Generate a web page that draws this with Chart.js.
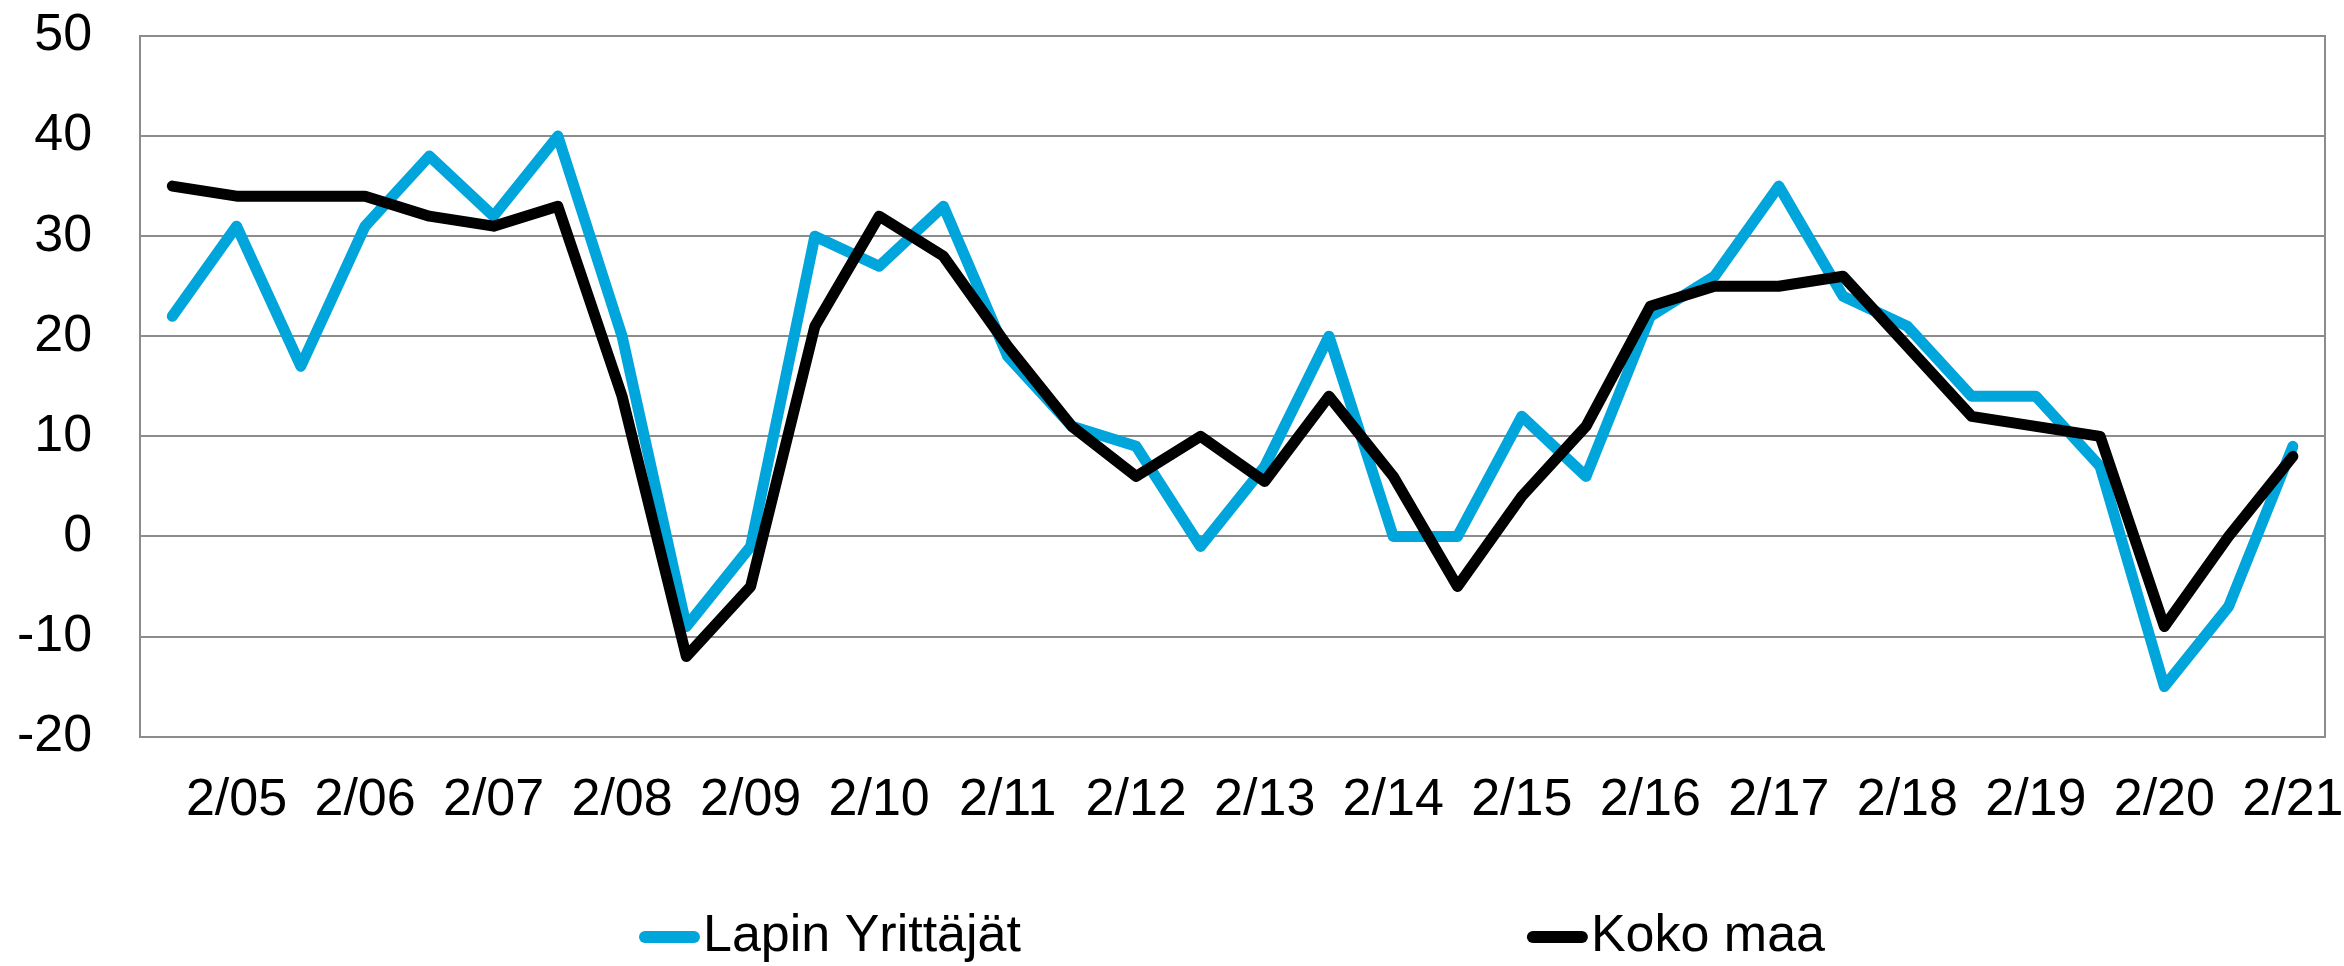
<!DOCTYPE html>
<html>
<head>
<meta charset="utf-8">
<script src="https://cdn.jsdelivr.net/npm/chart.js@4.4.1/dist/chart.umd.min.js"></script>
<style>
  html, body { margin: 0; padding: 0; background: #ffffff; }
  #wrap { width: 2344px; height: 966px; position: relative; }
</style>
</head>
<body>
<div id="wrap"><canvas id="c"></canvas></div>
<script>
const categories = [
  "1/05","2/05","1/06","2/06","1/07","2/07","1/08","2/08","1/09","2/09",
  "1/10","2/10","1/11","2/11","1/12","2/12","1/13","2/13","1/14","2/14",
  "1/15","2/15","1/16","2/16","1/17","2/17","1/18","2/18","1/19","2/19",
  "1/20","2/20","1/21","2/21"
];
const lapinYrittajat = [
  22, 31, 17, 31, 38, 32, 40, 20, -9, -1,
  30, 27, 33, 18, 11, 9, -1, 7, 20, 0,
  0, 12, 6, 22, 26, 35, 24, 21, 14, 14,
  7, -15, -7, 9
];
const kokoMaa = [
  35, 34, 34, 34, 32, 31, 33, 14, -12, -5,
  21, 32, 28, 19, 11, 6, 10, 5.5, 14, 6,
  -5, 4, 11, 23, 25, 25, 26, 19, 12, 11,
  10, -9, 0, 8
];
const seriesNames = ["Lapin Yrittäjät", "Koko maa"];
const seriesColors = ["#00A5DB", "#000000"];
const yTicks = [-20, -10, 0, 10, 20, 30, 40, 50];

const FONT = "'Liberation Sans', Arial, sans-serif";
const GRID = "#8c8c8c";

const bottomLegend = {
  id: "bottomLegend",
  afterDraw(chart, args, opts) {
    const ctx = chart.ctx;
    ctx.save();
    const W = chart.width;
    chart.data.datasets.forEach((ds, i) => {
      const x = W * opts.starts[i];
      const y = opts.y;
      ctx.strokeStyle = ds.borderColor;
      ctx.lineWidth = 12;
      ctx.lineCap = "round";
      ctx.beginPath();
      ctx.moveTo(x + 6, y);
      ctx.lineTo(x + 55, y);
      ctx.stroke();
      ctx.fillStyle = "#000";
      ctx.font = "52px " + FONT;
      ctx.textBaseline = "middle";
      ctx.textAlign = "left";
      ctx.fillText(ds.label, x + 64, y);
    });
    ctx.restore();
  }
};

function noOverhang(scale) {
  scale.paddingLeft = 0;
  scale.paddingRight = 0;
  scale.paddingTop = 0;
  scale.paddingBottom = 0;
}

new Chart(document.getElementById("c"), {
  type: "line",
  data: {
    labels: categories,
    datasets: [
      {
        label: seriesNames[0],
        data: lapinYrittajat,
        borderColor: seriesColors[0],
        backgroundColor: seriesColors[0],
        borderWidth: 11,
        pointRadius: 0,
        tension: 0,
        fill: false,
        borderJoinStyle: "round",
        borderCapStyle: "round",
        order: 1
      },
      {
        label: seriesNames[1],
        data: kokoMaa,
        borderColor: seriesColors[1],
        backgroundColor: seriesColors[1],
        borderWidth: 11,
        pointRadius: 0,
        tension: 0,
        fill: false,
        borderJoinStyle: "round",
        borderCapStyle: "round",
        order: 0
      }
    ]
  },
  options: {
    responsive: true,
    maintainAspectRatio: false,
    animation: false,
    layout: { padding: { left: 17, right: 19, top: 36, bottom: 134 } },
    plugins: {
      legend: { display: false },
      tooltip: { enabled: false },
      bottomLegend: { starts: [0.2726, 0.6514], y: 937 }
    },
    scales: {
      x: {
        type: "category",
        offset: true,
        afterFit: (scale) => { noOverhang(scale); scale.height -= scale.options.ticks.padding; },
        grid: { display: false, drawTicks: false },
        border: { display: true, color: GRID, width: 2 },
        ticks: {
          autoSkip: false,
          maxRotation: 0,
          minRotation: 0,
          padding: 33,
          color: "#000",
          font: { family: FONT, size: 52 },
          callback: function (value) {
            const l = this.getLabelForValue(value);
            return l.startsWith("2/") ? l : "";
          }
        }
      },
      y: {
        min: yTicks[0],
        max: yTicks[yTicks.length - 1],
        afterFit: (scale) => { noOverhang(scale); scale.width -= scale.options.ticks.padding; },
        afterBuildTicks: (axis) => { axis.ticks = yTicks.map(v => ({ value: v })); },
        grid: { color: GRID, lineWidth: 2, drawTicks: false },
        border: { display: true, color: GRID, width: 2 },
        ticks: {
          padding: 48,
          color: "#000",
          font: { family: FONT, size: 52 }
        }
      },
      y2: {
        position: "right",
        display: true,
        afterFit: (scale) => { noOverhang(scale); scale.width = 0; },
        grid: { display: false, drawTicks: false },
        border: { display: true, color: GRID, width: 2 },
        ticks: { display: false }
      }
    }
  },
  plugins: [bottomLegend]
});
</script>
</body>
</html>
